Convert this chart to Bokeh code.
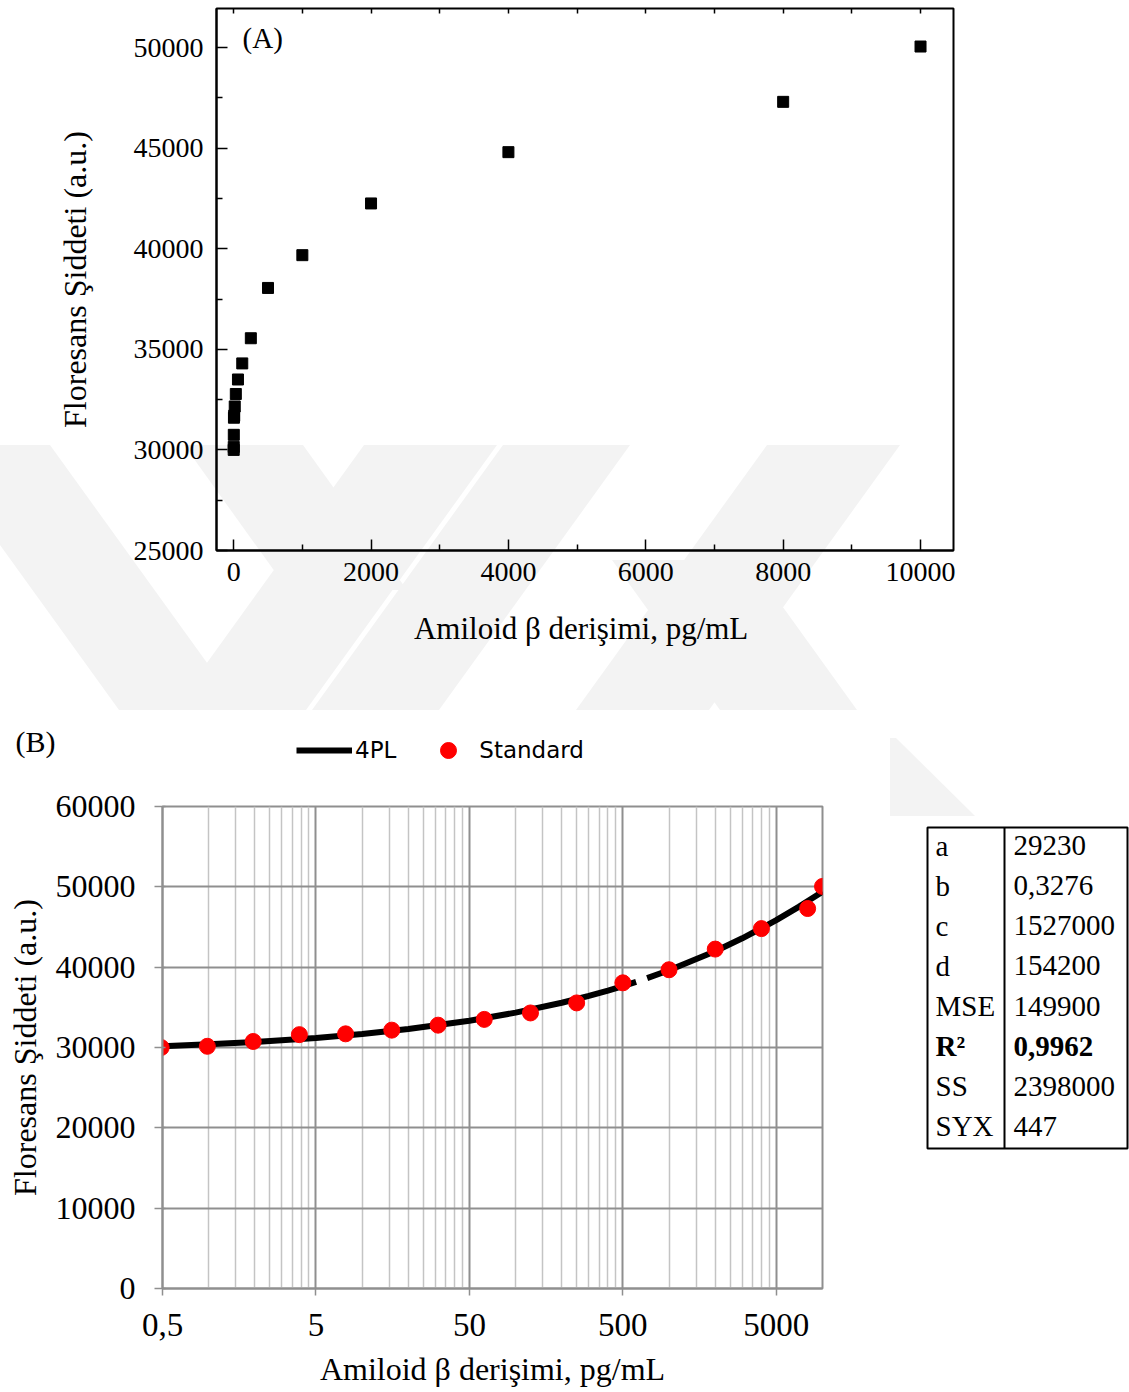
import base64
import numpy as np
from bokeh.plotting import figure
from bokeh.models import (FixedTicker, LinearAxis, Label, Legend, LegendItem,
                          BoxAnnotation, ColumnDataSource)
from bokeh.layouts import column, row
from bokeh.embed import file_html
from bokeh.resources import INLINE

# ---------------- data ----------------
conc = [0.49, 0.98, 1.95, 3.9, 7.8, 15.6, 31.25, 62.5, 125, 250, 500, 1000, 2000, 4000, 8000, 10000]
fluor = [30000, 30150, 30750, 31600, 31700, 32160, 32780, 33500, 34300, 35550, 38050, 39680, 42250, 44800, 47300, 50050]

# 4PL fitted curve (gap between ~610 and ~720 as in the original)
fit_x = [0.5, 1, 2, 5, 10, 20, 50, 100, 200, 300, 400, 500, 610, np.nan, 720, 1000, 2000, 3000, 5000, 7000, 10000]
fit_y = [30160, 30400, 30690, 31190, 31690, 32300, 33330, 34340, 35570, 36420, 37090, 37640, 38160, np.nan,
         38630, 39610, 41980, 43590, 45850, 47510, 49400]

table_params = ["a", "b", "c", "d", "MSE", "R\u00b2", "SS", "SYX"]
table_values = ["29230", "0,3276", "1527000", "154200", "149900", "0,9962", "2398000", "447"]
table_bold = [False, False, False, False, False, True, False, False]

a_x_ticks = [0, 2000, 4000, 6000, 8000, 10000]
a_x_minor = [1000, 3000, 5000, 7000, 9000]
a_top_ticks = [0, 1000, 2000, 3000, 4000, 5000, 6000, 7000, 8000, 9000, 10000]
a_y_ticks = [25000, 30000, 35000, 40000, 45000, 50000]
a_y_minor = [27500, 32500, 37500, 42500, 47500]
b_x_ticks = [0.5, 5, 50, 500, 5000]
b_x_tick_labels = ["0,5", "5", "50", "500", "5000"]
b_y_ticks = [0, 10000, 20000, 30000, 40000, 50000, 60000]

SERIF = "Liberation Serif"

# ---------------- faint background watermark (page decoration, CSS) ----------------
def band(x0, x1, sign, ytop=445, ybot=710, s=0.72):
    d = (ybot - ytop) * s * sign
    return [(x0, ytop), (x1, ytop), (x1 + d, ybot), (x0 + d, ybot)]

wm_polys = [band(-72, 50, 1), band(364, 497, -1), band(184, 303, 1, 445, 590),
            band(503, 630, -1), band(767, 900, -1), band(612, 749, 1, 560, 710),
            [(890, 738), (896, 738), (975, 816), (890, 816)]]
svg = "<svg xmlns='http://www.w3.org/2000/svg' width='1129' height='1392'>" + "".join(
    "<polygon fill='#f3f3f3' points='" + " ".join(f"{x:.0f},{y:.0f}" for x, y in poly) + "'/>"
    for poly in wm_polys) + "</svg>"
wm_url = "url(data:image/svg+xml;base64," + base64.b64encode(svg.encode()).decode() + ")"

# ---------------- panel A ----------------
pA = figure(width=1129, height=700, x_range=(-250, 10480), y_range=(25000, 51940),
            output_backend="svg", toolbar_location=None,
            min_border_left=216, min_border_right=176, min_border_top=8, min_border_bottom=150,
            background_fill_alpha=0, border_fill_alpha=0)
pA.grid.visible = False
pA.outline_line_color = "black"
pA.outline_line_width = 2

pA.scatter(conc, fluor, marker="square", size=11, color="black")

xa = pA.xaxis[0]
xa.ticker = FixedTicker(ticks=a_x_ticks, minor_ticks=a_x_minor)
ya = pA.yaxis[0]
ya.ticker = FixedTicker(ticks=a_y_ticks, minor_ticks=a_y_minor)
for ax in (xa, ya):
    ax.axis_line_width = 2
    ax.axis_line_color = "black"
    ax.major_tick_in = 11
    ax.major_tick_out = 0
    ax.minor_tick_in = 6
    ax.minor_tick_out = 0
    ax.major_tick_line_width = 1.5
    ax.minor_tick_line_width = 1.5
    ax.major_label_text_font = SERIF
    ax.major_label_text_font_size = "28px"
    ax.major_label_text_color = "black"
    ax.axis_label_text_font = SERIF
    ax.axis_label_text_font_style = "normal"
    ax.axis_label_text_color = "black"
xa.axis_label = "Amiloid \u03b2  deri\u015fimi, pg/mL"
xa.axis_label_text_font_size = "31px"
xa.major_label_standoff = 12
xa.axis_label_standoff = 27
ya.axis_label = "Floresans \u015eiddeti (a.u.)"
ya.axis_label_text_font_size = "32px"
ya.major_label_standoff = 13
ya.axis_label_standoff = 38

# small inward ticks along the top edge (minor ticks only, so no labels)
top_ax = LinearAxis(ticker=FixedTicker(ticks=[], minor_ticks=a_top_ticks),
                    major_tick_in=0, major_tick_out=0, minor_tick_in=5, minor_tick_out=0,
                    minor_tick_line_width=1.5, axis_line_alpha=0)
pA.add_layout(top_ax, "above")

pA.add_layout(Label(x=130, y=50450, text="(A)", text_font=SERIF, text_font_size="29px",
                    text_baseline="middle", text_align="left", text_color="black"))

# ---------------- shared source for panel B ----------------
src_fit = ColumnDataSource(data=dict(x=np.array(fit_x, dtype=float), y=np.array(fit_y, dtype=float)))
src_std = ColumnDataSource(data=dict(x=conc, y=fluor))

def line_style():
    return dict(line_width=6, line_color="black")

def dot_style():
    return dict(marker="circle", size=16, fill_color="#ff0000", line_color="#ff0000")

# ---------------- header of panel B: "(B)" + legend ----------------
HH = 86
pH = figure(width=1129, height=HH, x_range=(0, 1129), y_range=(0, HH),
            output_backend="svg", toolbar_location=None,
            x_axis_location=None, y_axis_location=None,
            min_border_left=0, min_border_right=0, min_border_top=0, min_border_bottom=0,
            background_fill_alpha=0, border_fill_alpha=0, outline_line_alpha=0)
pH.grid.visible = False
h_fit = pH.line("x", "y", source=src_fit, visible=False, **line_style())
h_std = pH.scatter("x", "y", source=src_std, visible=False, **dot_style())
legend = Legend(items=[LegendItem(label="4PL", renderers=[h_fit]),
                       LegendItem(label="Standard", renderers=[h_std])],
                orientation="horizontal", location=(296, 16), click_policy="none",
                glyph_width=56, glyph_height=40, label_height=40, label_standoff=3, spacing=24,
                padding=0, margin=0, border_line_alpha=0, background_fill_alpha=0,
                inactive_fill_alpha=0,
                label_text_font="DejaVu Sans", label_text_font_size="23px", label_text_color="black",
                label_text_baseline="middle")
pH.add_layout(legend, "center")
pH.add_layout(Label(x=15, y=HH - 41, x_units="screen", y_units="screen", text="(B)",
                    text_font=SERIF, text_font_size="30px", text_baseline="middle", text_align="left",
                    text_color="black"))

# ---------------- panel B ----------------
BH = 1392 - 700 - HH   # 606
pB = figure(width=900, height=BH, x_axis_type="log", x_range=(0.5, 10000), y_range=(0, 60000),
            output_backend="svg", toolbar_location=None,
            min_border_left=162, min_border_right=78, min_border_top=20, min_border_bottom=104,
            background_fill_color="white", border_fill_alpha=0)

b_minor = [n * d for d in (0.5, 5, 50, 500) for n in range(2, 10)] + [10000]
xb = pB.xaxis[0]
xb.ticker = FixedTicker(ticks=b_x_ticks, minor_ticks=b_minor)
xb.major_label_overrides = {t: l for t, l in zip(b_x_ticks, b_x_tick_labels)}
yb = pB.yaxis[0]
yb.ticker = FixedTicker(ticks=b_y_ticks)

pB.xgrid.grid_line_color = "#8f8f8f"
pB.xgrid.grid_line_width = 2
pB.xgrid.minor_grid_line_color = "#c4c4c4"
pB.xgrid.minor_grid_line_width = 1.5
pB.ygrid.grid_line_color = "#8f8f8f"
pB.ygrid.grid_line_width = 2
pB.outline_line_color = "#8f8f8f"
pB.outline_line_width = 2

for ax in (xb, yb):
    ax.axis_line_color = "#8f8f8f"
    ax.axis_line_width = 2
    ax.major_tick_line_color = "#8f8f8f"
    ax.major_tick_line_width = 1.5
    ax.minor_tick_in = 0
    ax.minor_tick_out = 0
    ax.major_label_text_font = SERIF
    ax.major_label_text_color = "black"
    ax.axis_label_text_font = SERIF
    ax.axis_label_text_font_size = "32px"
    ax.axis_label_text_font_style = "normal"
    ax.axis_label_text_color = "black"
xb.major_label_text_font_size = "33px"
xb.major_tick_out = 7
xb.major_tick_in = 0
xb.major_label_standoff = 18
xb.axis_label = "Amiloid \u03b2 deri\u015fimi, pg/mL"
xb.axis_label_standoff = 12
yb.major_label_text_font_size = "32px"
yb.major_tick_out = 8
yb.major_tick_in = 3
yb.major_label_standoff = 19
yb.axis_label = "Floresans \u015eiddeti (a.u.)"
yb.axis_label_standoff = 10

pB.line("x", "y", source=src_fit, **line_style())
pB.scatter("x", "y", source=src_std, **dot_style())

# ---------------- fit-parameter table (right of panel B) ----------------
TW = 1129 - 900
pT = figure(width=TW, height=BH, x_range=(0, 1), y_range=(0, 1),
            output_backend="svg", toolbar_location=None,
            x_axis_location=None, y_axis_location=None,
            min_border_left=0, min_border_right=0, min_border_top=20, min_border_bottom=104,
            background_fill_alpha=0, border_fill_alpha=0, outline_line_alpha=0)
pT.grid.visible = False
F_LEFT, F_BOTTOM = 900, 1288          # page position of pT's frame corner
T_L, T_R, T_T, T_B, T_DIV = 927, 1127, 827, 1148, 1004
ROW_H = (T_B - T_T) / len(table_params)

def sx(x):
    return x - F_LEFT

def sy(y):
    return F_BOTTOM - y

box_units = dict(left_units="screen", right_units="screen", top_units="screen", bottom_units="screen")
pT.add_layout(BoxAnnotation(left=sx(T_L), right=sx(T_R), top=sy(T_T), bottom=sy(T_B),
                            fill_color="white", fill_alpha=1.0, line_color="black", line_alpha=1.0,
                            line_width=2, **box_units))
pT.add_layout(BoxAnnotation(left=sx(T_DIV - 1), right=sx(T_DIV + 1), top=sy(T_T), bottom=sy(T_B),
                            fill_color="black", fill_alpha=1.0, line_alpha=0, **box_units))
for i, (pname, pval, bold) in enumerate(zip(table_params, table_values, table_bold)):
    yc = T_T + ROW_H * (i + 0.5) - 2
    style = "bold" if bold else "normal"
    for xx, txt in ((935, pname), (1013, pval)):
        pT.add_layout(Label(x=sx(xx), y=sy(yc), x_units="screen", y_units="screen", text=txt,
                            text_font=SERIF, text_font_size="29px", text_font_style=style,
                            text_baseline="middle", text_align="left", text_color="black"))

layout = column(row(pA), row(pH), row(pB, pT), spacing=0,
                styles={"background-color": "white", "background-image": wm_url,
                        "background-repeat": "no-repeat", "background-position": "0 0"})
open("out.html", "w").write(file_html(layout, INLINE))
